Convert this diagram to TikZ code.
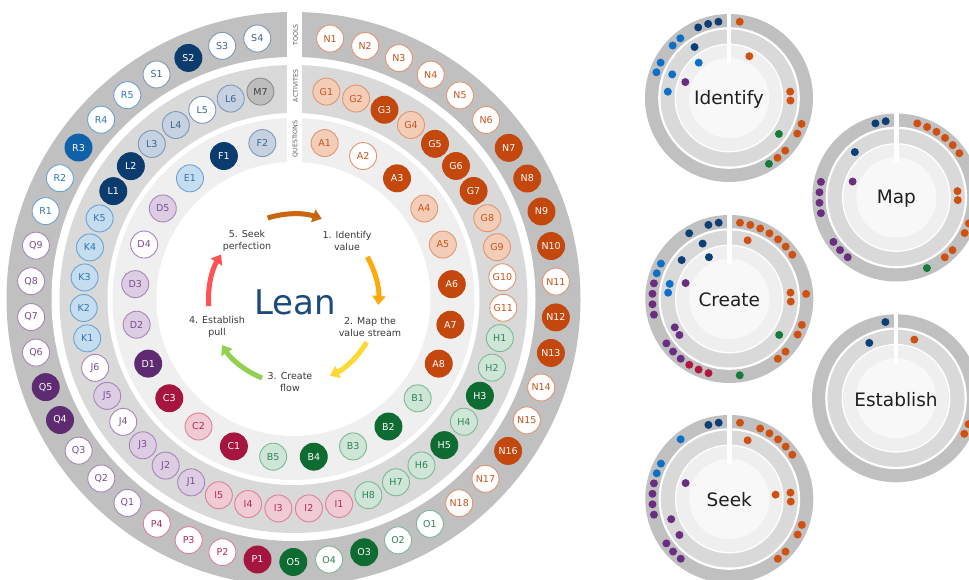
\documentclass[tikz,border=0pt]{standalone}
\usepackage{fontspec}
\setmainfont{DejaVu Sans}
\usetikzlibrary{arrows.meta}

% ring bands
\definecolor{tbandc}{HTML}{C0C0C0}
\definecolor{abandc}{HTML}{D9D9D9}
\definecolor{qbandc}{HTML}{EFEFEF}
\definecolor{corec}{HTML}{F8F8F8}
% item families: dark fill, light fill, outline, text
\definecolor{orD}{HTML}{C4470D}\definecolor{orL}{HTML}{F4CDB8}\definecolor{orM}{HTML}{E39470}\definecolor{orT}{HTML}{C9531A}
\definecolor{grD}{HTML}{0E6B32}\definecolor{grL}{HTML}{CFE5D7}\definecolor{grM}{HTML}{7DB895}\definecolor{grT}{HTML}{2F8553}
\definecolor{crD}{HTML}{A51540}\definecolor{crL}{HTML}{F1CBD4}\definecolor{crM}{HTML}{DB8199}\definecolor{crT}{HTML}{B52A52}
\definecolor{puD}{HTML}{5E2A72}\definecolor{puL}{HTML}{DDCDE3}\definecolor{puM}{HTML}{A884B8}\definecolor{puT}{HTML}{7B4B92}
\definecolor{blD}{HTML}{1060AA}\definecolor{blL}{HTML}{C6DCEF}\definecolor{blM}{HTML}{6AA3D4}\definecolor{blT}{HTML}{2D75B9}
\definecolor{nvD}{HTML}{0C3B6E}\definecolor{nvL}{HTML}{C6D2E1}\definecolor{nvM}{HTML}{7D98B8}\definecolor{nvT}{HTML}{3D6390}
\definecolor{gyF}{HTML}{BDBDBD}\definecolor{gyM}{HTML}{8C8C8C}\definecolor{gyT}{HTML}{404040}
% small dots of the step discs
\definecolor{mdor}{HTML}{D0500F}\definecolor{mdgr}{HTML}{167A3C}\definecolor{mdcr}{HTML}{B0183F}
\definecolor{mdpu}{HTML}{6B2D82}\definecolor{mdbl}{HTML}{0C70C8}\definecolor{mdnv}{HTML}{0B3F75}
% cycle arrows
\definecolor{arA}{HTML}{C8670F}\definecolor{arB}{HTML}{FFA90A}\definecolor{arC}{HTML}{FFD833}
\definecolor{arD}{HTML}{92D050}\definecolor{arE}{HTML}{FF5252}
\definecolor{leanblue}{HTML}{1C4A7E}
\definecolor{labelgray}{HTML}{3A3A3A}

% one step disc: rings, spine and title
\newcommand\leanmini[3]{%
  \begin{scope}[shift={(#1)}]
    \fill[tbandc] (0,0) circle (84);
    \fill[white] (0,0) circle (70.8);
    \fill[abandc] (0,0) circle (68.5);
    \fill[white] (0,0) circle (54.4);
    \fill[qbandc] (0,0) circle (53);
    \fill[corec] (0,0) circle (40.1);
    \fill[white] (-2.3,35) rectangle (2.3,86);
    \node[minilabel] (#2) at (0,-1) {#3};
  \end{scope}}
% dots on the tools, activities and questions rings of a step disc
\newcommand\tooldots[2]{\begin{scope}[shift={(#1)}]
  \foreach \k/\c in {#2} \fill[fill=md\c] ({82-(\k-1)*7.82}:77) circle (4);
  \end{scope}}
\newcommand\actdots[2]{\begin{scope}[shift={(#1)}]
  \foreach \k/\c in {#2} \fill[fill=md\c] ({81-(\k-1)*8.34}:61.5) circle (4);
  \end{scope}}
\newcommand\qdots[2]{\begin{scope}[shift={(#1)}]
  \foreach \k/\c in {#2} \fill[fill=md\c] ({78.7-(\k-1)*14.67}:46.5) circle (4);
  \end{scope}}

\begin{document}
\begin{tikzpicture}[x=1pt,y=1pt,
  item/.style={circle, minimum size=27pt, inner sep=0pt, line width=0.9pt,
    font=\fontsize{9.5}{10}\selectfont},
  or-d/.style={item, fill=orD, draw=orD, text=white},
  or-l/.style={item, fill=orL, draw=orM, text=orT},
  or-w/.style={item, fill=white, draw=orM, text=orT},
  gr-d/.style={item, fill=grD, draw=grD, text=white},
  gr-l/.style={item, fill=grL, draw=grM, text=grT},
  gr-w/.style={item, fill=white, draw=grM, text=grT},
  cr-d/.style={item, fill=crD, draw=crD, text=white},
  cr-l/.style={item, fill=crL, draw=crM, text=crT},
  cr-w/.style={item, fill=white, draw=crM, text=crT},
  pu-d/.style={item, fill=puD, draw=puD, text=white},
  pu-l/.style={item, fill=puL, draw=puM, text=puT},
  pu-w/.style={item, fill=white, draw=puM, text=puT},
  bl-d/.style={item, fill=blD, draw=blD, text=white},
  bl-l/.style={item, fill=blL, draw=blM, text=blT},
  bl-w/.style={item, fill=white, draw=blM, text=blT},
  nv-d/.style={item, fill=nvD, draw=nvD, text=white},
  nv-l/.style={item, fill=nvL, draw=nvM, text=nvT},
  nv-w/.style={item, fill=white, draw=nvM, text=nvT},
  gy/.style={item, fill=gyF, draw=gyM, text=gyT},
  ringname/.style={rotate=90, inner sep=0pt, text=black!65,
    font=\fontsize{6.3}{7}\selectfont},
  steplabel/.style={align=center, text=labelgray, inner sep=1pt,
    font=\fontsize{9.5}{12}\selectfont},
  cyclearrow/.style={line width=5pt, -{Triangle[width=13pt,length=9pt]}},
  minilabel/.style={inner sep=0pt, text=black!88, font=\fontsize{18.5}{20}\selectfont},
  tband/.style={fill=tbandc}
]
\useasboundingbox (0,0) rectangle (969,580);
\clip (0,0) rectangle (969,580);
\fill[white] (0,0) rectangle (969,580);

% ---------------- main wheel ----------------
\coordinate (C) at (293.5,281);
\fill[tbandc] (C) circle (287);
\fill[white] (C) circle (242);
\fill[abandc] (C) circle (234);
\fill[white] (C) circle (186);
\fill[qbandc] (C) circle (181);
\fill[white] (C) circle (137);
% spine carrying the ring names
\fill[white] (286.5,402) rectangle (301.5,581);
\node[ringname] (ltools) at (295.5,545) {TOOLS};
\node[ringname] (lacts) at (295.5,494) {ACTIVITES};
\node[ringname] (lquest) at (295.5,441) {QUESTIONS};

\begin{scope}[shift={(C)}]
  % tools ring
  \foreach \n/\s [count=\k] in {N1/or-w, N2/or-w, N3/or-w, N4/or-w, N5/or-w, N6/or-w,
      N7/or-d, N8/or-d, N9/or-d, N10/or-d, N11/or-w, N12/or-d, N13/or-d, N14/or-w,
      N15/or-w, N16/or-d, N17/or-w, N18/or-w, O1/gr-w, O2/gr-w, O3/gr-d, O4/gr-w,
      O5/gr-d, P1/cr-d, P2/cr-w, P3/cr-w, P4/cr-w, Q1/pu-w, Q2/pu-w, Q3/pu-w,
      Q4/pu-d, Q5/pu-d, Q6/pu-w, Q7/pu-w, Q8/pu-w, Q9/pu-w, R1/bl-w, R2/bl-w,
      R3/bl-d, R4/bl-w, R5/bl-w, S1/nv-w, S2/nv-d, S3/nv-w, S4/nv-w}
    \node[\s] (\n) at ({82-(\k-1)*7.82}:263) {\n};
  % activities ring
  \foreach \n/\s [count=\k] in {G1/or-l, G2/or-l, G3/or-d, G4/or-l, G5/or-d, G6/or-d,
      G7/or-d, G8/or-l, G9/or-l, G10/or-w, G11/or-w, H1/gr-l, H2/gr-l, H3/gr-d,
      H4/gr-l, H5/gr-d, H6/gr-l, H7/gr-l, H8/gr-l, I1/cr-l, I2/cr-l, I3/cr-l,
      I4/cr-l, I5/cr-l, J1/pu-l, J2/pu-l, J3/pu-l, J4/pu-w, J5/pu-l, J6/pu-w,
      K1/bl-l, K2/bl-l, K3/bl-l, K4/bl-l, K5/bl-l, L1/nv-d, L2/nv-d, L3/nv-l,
      L4/nv-l, L5/nv-w, L6/nv-l, M7/gy}
    \node[\s] (\n) at ({81-(\k-1)*8.34}:210) {\n};
  % questions ring
  \foreach \n/\s [count=\k] in {A1/or-l, A2/or-w, A3/or-d, A4/or-l, A5/or-l, A6/or-d,
      A7/or-d, A8/or-d, B1/gr-l, B2/gr-d, B3/gr-l, B4/gr-d, B5/gr-l, C1/cr-d,
      C2/cr-l, C3/cr-d, D1/pu-d, D2/pu-l, D3/pu-l, D4/pu-w, D5/pu-l, E1/bl-l,
      F1/nv-d, F2/nv-l}
    \node[\s] (\n) at ({78.7-(\k-1)*14.67}:159) {\n};

  % the five-step cycle
  \node[text=leanblue, inner sep=0pt, font=\fontsize{34}{36}\selectfont] (lean) at (1.5,-3) {Lean};
  \node[steplabel] (s1) at (53.5,58) {1. Identify\\value};
  \node[steplabel] (s2) at (76.5,-28) {2. Map the\\value stream};
  \node[steplabel] (s3) at (-3.5,-83) {3. Create\\flow};
  \node[steplabel] (s4) at (-76.5,-28) {4. Establish\\pull};
  \node[steplabel] (s5) at (-46.5,58) {5. Seek\\perfection};
  \draw[cyclearrow, arA] (107.7:85) arc[start angle=107.7, end angle=70.6, radius=85];
  \draw[cyclearrow, arB] (29.7:85) arc[start angle=29.7, end angle=-4, radius=85];
  \draw[cyclearrow, arC] (-30.6:85) arc[start angle=-30.6, end angle=-64.6, radius=85];
  \draw[cyclearrow, arD] (248.3:85) arc[start angle=248.3, end angle=212.8, radius=85];
  \draw[cyclearrow, arE] (184.8:85) arc[start angle=184.8, end angle=148.4, radius=85];
\end{scope}

% ---------------- step discs ----------------
\leanmini{729,482}{identify}{Identify}
\tooldots{729,482}{1/or, 14/or, 15/or, 17/or, 18/or, 19/gr, 37/bl, 38/bl, 40/bl, 41/bl, 43/nv, 44/nv, 45/nv}
\actdots{729,482}{10/or, 11/or, 15/gr, 33/bl, 35/bl, 39/nv}
\qdots{729,482}{2/or, 20/pu, 22/bl}

\leanmini{896.3,382.5}{map}{Map}
\tooldots{896.3,382.5}{2/or, 3/or, 4/or, 5/or, 6/or, 7/or, 14/or, 15/or, 17/or, 18/or, 20/gr, 28/pu, 29/pu, 30/pu, 33/pu, 34/pu, 35/pu, 36/pu, 44/nv, 45/nv}
\actdots{896.3,382.5}{10/or, 11/or, 38/nv}
\qdots{896.3,382.5}{20/pu}

\leanmini{729.3,281}{create}{Create}
\tooldots{729.3,281}{1/or, 2/or, 3/or, 4/or, 5/or, 6/or, 7/or, 11/or, 14/or, 15/or, 17/or, 18/or, 22/gr, 25/cr, 26/cr, 27/cr, 28/pu, 29/pu, 30/pu, 33/pu, 34/pu, 35/pu, 36/pu, 37/bl, 38/bl, 42/nv, 44/nv, 45/nv}
\actdots{729.3,281}{2/or, 10/or, 11/or, 15/gr, 28/pu, 29/pu, 33/bl, 34/bl, 37/nv, 40/nv}
\qdots{729.3,281}{20/pu, 23/nv}

\leanmini{896,181.7}{establish}{Establish}
\tooldots{896,181.7}{14/or, 15/or, 45/nv}
\actdots{896,181.7}{2/or, 40/nv}

\leanmini{729.3,81}{seek}{Seek}
\tooldots{729.3,81}{1/or, 3/or, 4/or, 5/or, 6/or, 7/or, 14/or, 15/or, 17/or, 18/or, 28/pu, 29/pu, 30/pu, 33/pu, 34/pu, 35/pu, 36/pu, 37/bl, 38/bl, 41/bl, 44/nv, 45/nv}
\actdots{729.3,81}{2/or, 10/or, 11/or, 28/pu, 30/pu}
\qdots{729.3,81}{6/or, 20/pu}
\end{tikzpicture}
\end{document}
